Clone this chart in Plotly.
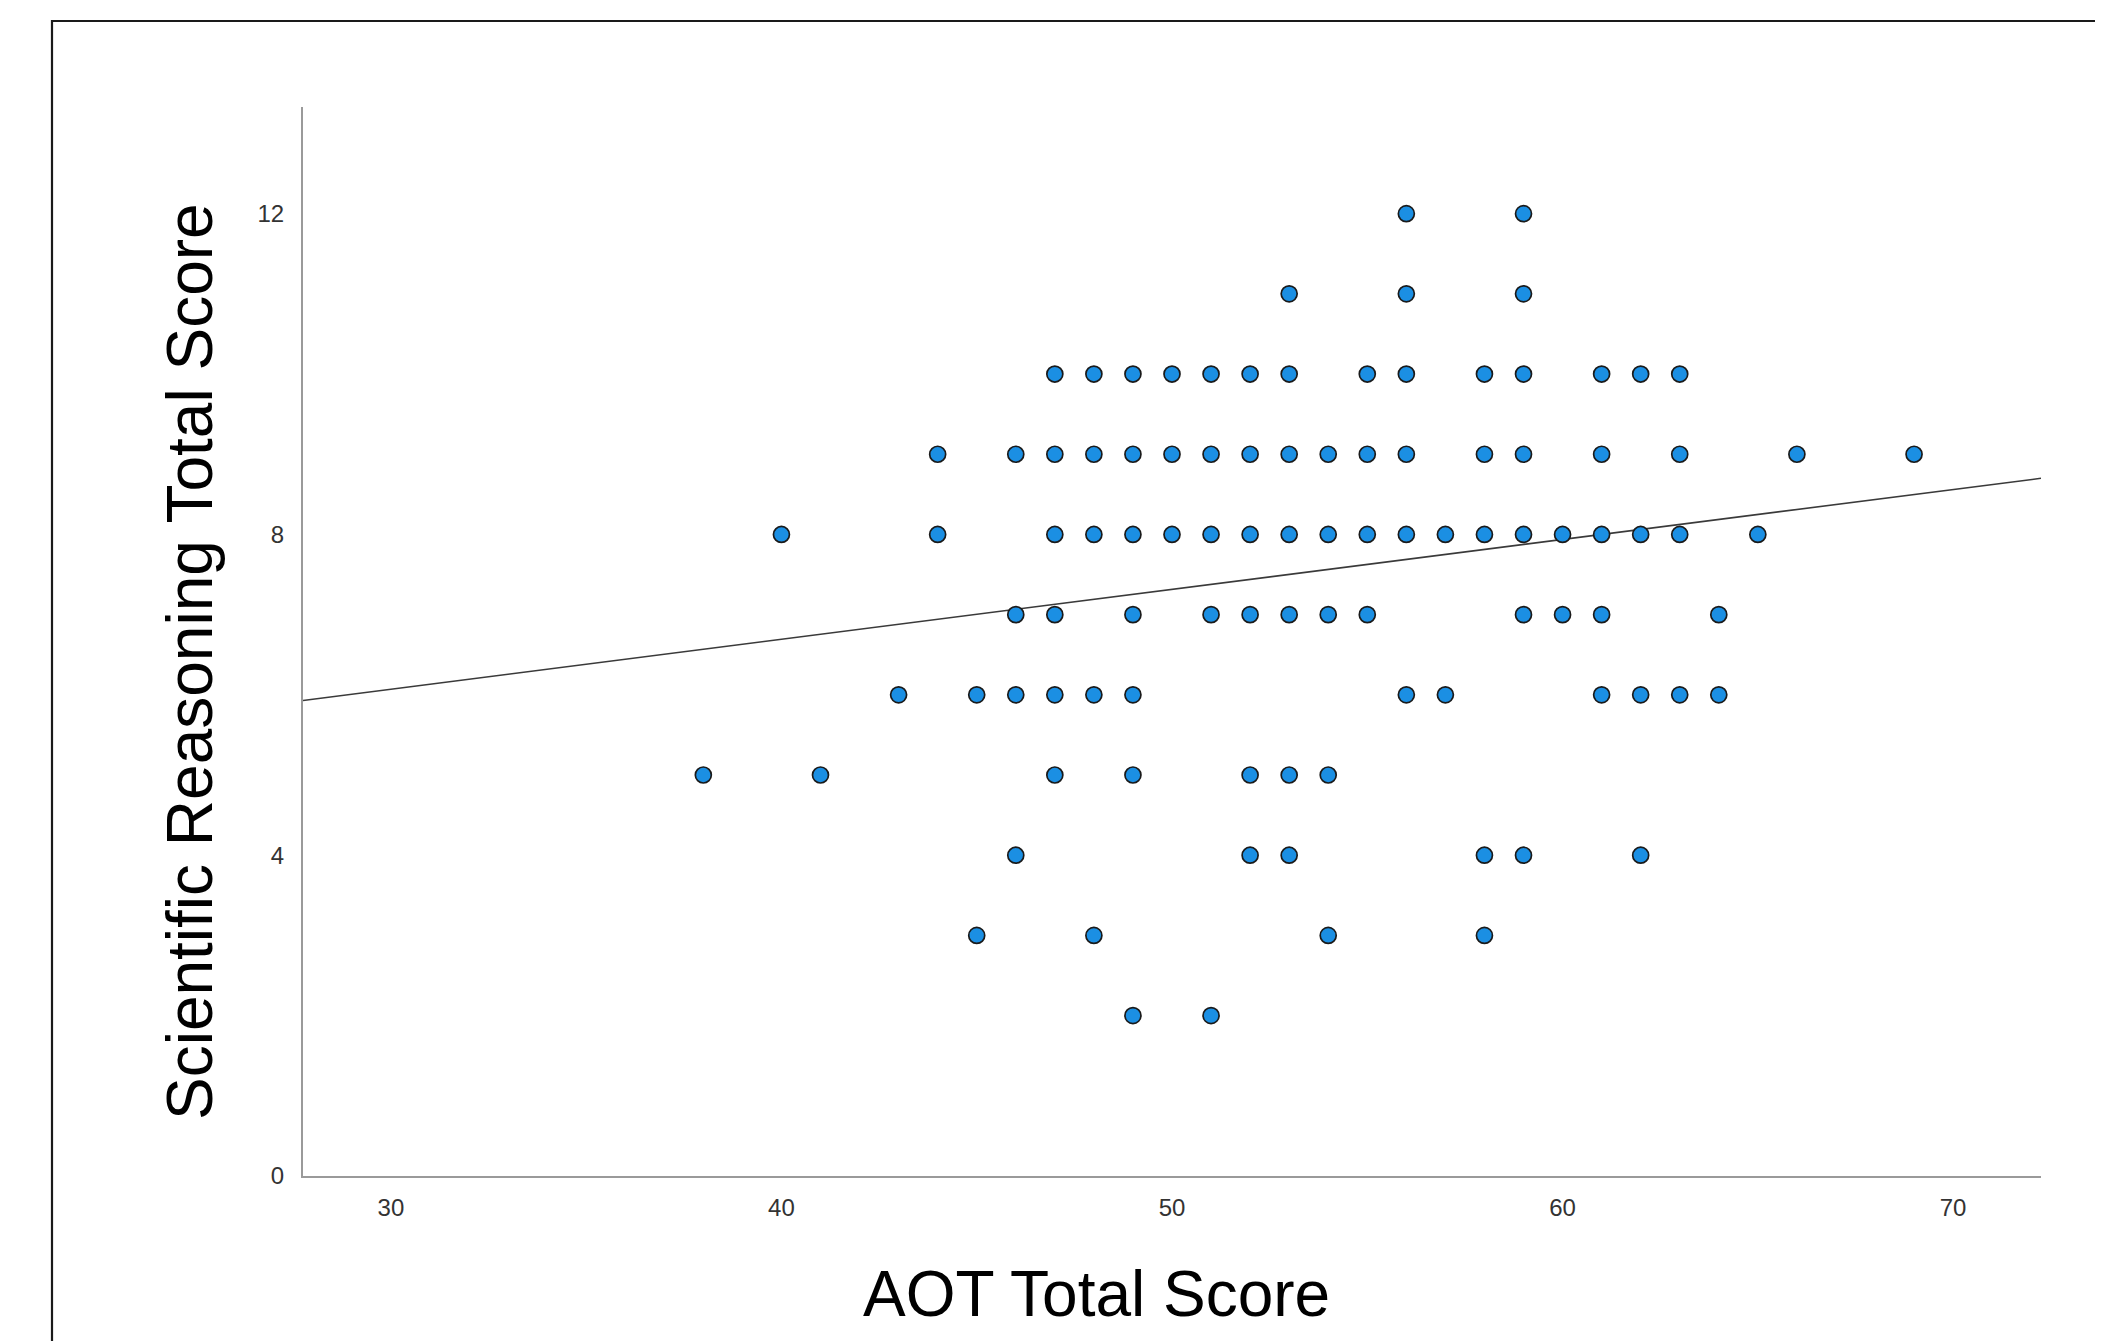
import plotly.graph_objects as go

# AOT Total Score values observed at each Scientific Reasoning Total Score
aot_at_sr12 = [56, 59]
aot_at_sr11 = [53, 56, 59]
aot_at_sr10 = [47, 48, 49, 50, 51, 52, 53, 55, 56, 58, 59, 61, 62, 63]
aot_at_sr9 = [44, 46, 47, 48, 49, 50, 51, 52, 53, 54, 55, 56, 58, 59, 61, 63, 66, 69]
aot_at_sr8 = [40, 44, 47, 48, 49, 50, 51, 52, 53, 54, 55, 56, 57, 58, 59, 60, 61, 62, 63, 65]
aot_at_sr7 = [46, 47, 49, 51, 52, 53, 54, 55, 59, 60, 61, 64]
aot_at_sr6 = [43, 45, 46, 47, 48, 49, 56, 57, 61, 62, 63, 64]
aot_at_sr5 = [38, 41, 47, 49, 52, 53, 54]
aot_at_sr4 = [46, 52, 53, 58, 59, 62]
aot_at_sr3 = [45, 48, 54, 58]
aot_at_sr2 = [49, 51]

sr_levels = [12, 11, 10, 9, 8, 7, 6, 5, 4, 3, 2]
aot_rows = [aot_at_sr12, aot_at_sr11, aot_at_sr10, aot_at_sr9, aot_at_sr8,
            aot_at_sr7, aot_at_sr6, aot_at_sr5, aot_at_sr4, aot_at_sr3, aot_at_sr2]

# Fit line (linear regression)
fit_x = [27.75, 72.25]
fit_y = [5.93, 8.70]

x_ticks = [30, 40, 50, 60, 70]
y_ticks = [0, 4, 8, 12]

aot = []
sr = []
for level, row in zip(sr_levels, aot_rows):
    for v in row:
        aot.append(v)
        sr.append(level)

W, H = 2103, 1341
OFF = 8  # page body margin
# plot area in page pixel coordinates
PX0, PX1, PY0, PY1 = 303, 2041, 107, 1176
L = PX0 - OFF
T = PY0 - OFF
R = W - (PX1 - OFF)
B = H - (PY1 - OFF)
pw, ph = PX1 - PX0, PY1 - PY0


def px(xpage):
    return (xpage - PX0) / pw


def py(ypage):
    return (PY1 - ypage) / ph


fig = go.Figure()
fig.add_trace(go.Scatter(
    x=fit_x, y=fit_y, mode="lines",
    line=dict(color="#3a3a3a", width=1.6),
    showlegend=False, hoverinfo="skip",
))
fig.add_trace(go.Scatter(
    x=aot, y=sr, mode="markers",
    marker=dict(color="#1b8fe3", size=16, line=dict(color="#1a1a1a", width=1.7)),
    showlegend=False,
))

tick_font = dict(family="Liberation Sans, Arial, sans-serif", size=24, color="#333333")

fig.update_layout(
    width=W, height=H,
    margin=dict(l=L, r=R, t=T, b=B, pad=0),
    paper_bgcolor="white", plot_bgcolor="white",
    xaxis=dict(
        range=[27.75, 72.25], tickvals=x_ticks, ticktext=[str(v) for v in x_ticks],
        showgrid=False, zeroline=False, showline=True, linecolor="#9a9a9a", linewidth=2,
        ticks="", tickfont=tick_font, ticklabelstandoff=9,
    ),
    yaxis=dict(
        range=[0, 13.33], tickvals=y_ticks, ticktext=[str(v) for v in y_ticks],
        showgrid=False, zeroline=False, showline=True, linecolor="#9a9a9a", linewidth=2,
        ticks="", tickfont=tick_font, ticklabelstandoff=12,
    ),
    font=dict(family="Liberation Sans, Arial, sans-serif"),
    shapes=[dict(
        type="rect", xref="paper", yref="paper",
        x0=px(52), x1=1.3, y0=-0.4, y1=py(21),
        line=dict(color="#1a1a1a", width=2.2), fillcolor="rgba(0,0,0,0)", layer="below",
    )],
    annotations=[
        dict(text="AOT Total Score", xref="paper", yref="paper",
             x=px(1096), y=py(1294), xanchor="center", yanchor="middle",
             showarrow=False, font=dict(size=64, color="black",
                                        family="Liberation Sans, Arial, sans-serif")),
        dict(text="Scientific Reasoning Total Score", xref="paper", yref="paper",
             x=px(190), y=py(662), xanchor="center", yanchor="middle",
             textangle=-90, showarrow=False,
             font=dict(size=64, color="black", family="Liberation Sans, Arial, sans-serif")),
    ],
)

fig.write_html("out.html")
